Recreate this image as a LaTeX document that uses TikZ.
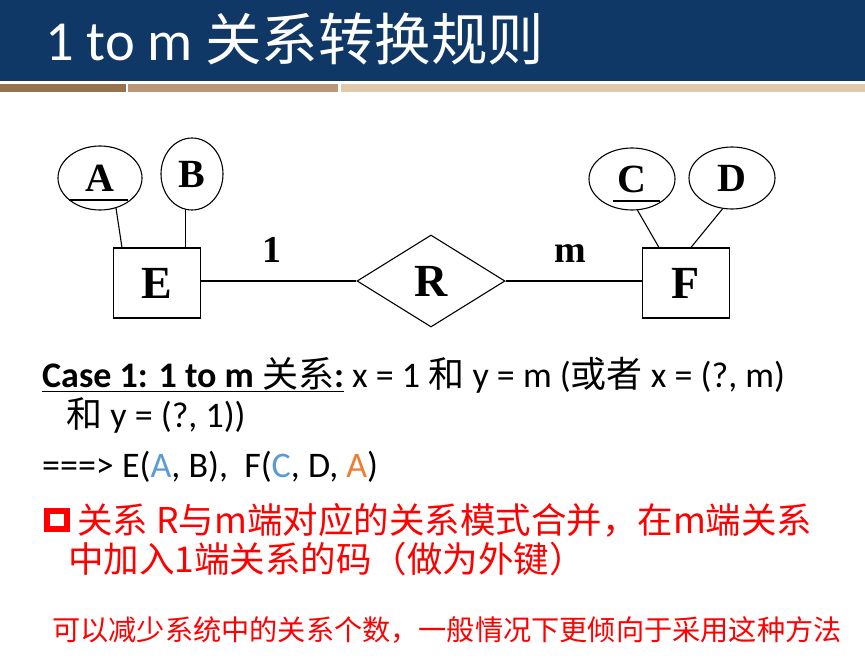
\documentclass[tikz,border=0pt]{standalone}
\usepackage{fontspec}
\setmainfont{Carlito}
\newfontfamily\cjk{Noto Sans CJK SC}
\newfontfamily\ertimes{Liberation Serif}
\usetikzlibrary{shapes.geometric,calc}

\definecolor{barblue}{RGB}{16,56,102}
\definecolor{stripA}{RGB}{150,115,78}
\definecolor{stripB}{RGB}{184,152,118}
\definecolor{stripC}{RGB}{224,202,170}
\definecolor{keyblue}{RGB}{91,155,213}
\definecolor{fkorange}{RGB}{237,125,49}

\tikzset{
  attr/.style={ellipse, draw, line width=1.1pt, inner sep=0pt,
    font=\ertimes\bfseries\fontsize{40}{40}\selectfont},
  entity/.style={rectangle, draw, line width=1.1pt, inner sep=0pt,
    minimum width=87pt, minimum height=70pt,
    font=\ertimes\bfseries\fontsize{46}{46}\selectfont},
  rel/.style={diamond, draw, line width=1.1pt, inner sep=0pt,
    minimum width=148pt, minimum height=92pt,
    font=\ertimes\bfseries\fontsize{46}{46}\selectfont},
  card/.style={anchor=base, font=\ertimes\bfseries\fontsize{38}{38}\selectfont},
  link/.style={line width=1.1pt},
  body/.style={anchor=base west, inner sep=0pt, align=left, font=\fontsize{36}{40}\selectfont},
  redtext/.style={anchor=base west, inner sep=0pt, text=red, font=\cjk\fontsize{35.5}{35.5}\selectfont}
}

\begin{document}
\begin{tikzpicture}[x=1pt, y=-1pt]
  \useasboundingbox (0,0) rectangle (865,663);
  % title bar
  \fill[barblue] (0,0) rectangle (865,81);
  \fill[stripA] (0,84) rectangle (126,92);
  \fill[stripB] (128,84) rectangle (338,92);
  \fill[stripC] (341,84) rectangle (865,92);
  \node[anchor=base west, inner sep=0pt, text=white] (title) at (45,61)
    {\fontsize{56.5}{56.5}\selectfont 1 to m {\cjk 关系转换规则}};

  % ER diagram
  \node[attr, minimum width=84pt, minimum height=64pt] (A) at (100,178) {A};
  \node[attr, minimum width=62pt, minimum height=72pt] (B) at (192,174) {B};
  \node[attr, minimum width=86pt, minimum height=62pt] (C) at (632,179) {C};
  \node[attr, minimum width=86pt, minimum height=62pt] (D) at (732,178) {D};
  \node[entity] (E) at (157,283) {E};
  \node[entity] (F) at (686,283) {F};
  \node[rel] (R) at (431,281) {R};
  \node[card] (one) at (272,262) {1};
  \node[card] (many) at (570,262) {m};

  % keys
  \draw[link] ($(A.center)+(-31,22)$) -- ($(A.center)+(28,22)$);
  \draw[link] ($(C.center)+(-19,22)$) -- ($(C.center)+(28,22)$);

  \draw[link] (A.-62) -- ($(E.north west)+(9,0)$);
  \draw[link] (B.-100) -- (B.-100 |- E.north);
  \draw[link] (C.-80) -- ($(F.north west)+(17,0)$);
  \draw[link] (D.-107) -- ($(F.north west)+(49,0)$);
  \draw[link] (E.east |- R.west) -- (R.west);
  \draw[link] (R.east) -- (R.east -| F.west);

  % text
  \node[body] (case) at (42,427)
    {\underline{\bfseries Case 1: 1 to m {\cjk\mdseries 关系}:} x = 1 {\cjk 和} y = m ({\cjk 或者} x = (?, m)\\
     \hspace*{24pt}{\cjk 和} y = (?, 1))};
  \node[body] (res) at (42,477)
    {===> E(\textcolor{keyblue}{A}, B),\ \ F(\textcolor{keyblue}{C}, D, \textcolor{fkorange}{A})};
  \node[draw=red, line width=5.5pt, inner sep=0pt, minimum width=20pt, minimum height=18pt] (bullet) at (57,520) {};
  \node[redtext] (rule) at (77,533) {关系 R与m端对应的关系模式合并，在m端关系};
  \node[redtext] (rule2) at (68,572) {中加入1端关系的码（做为外键）};
  \node[redtext, font=\cjk\fontsize{28.2}{28.2}\selectfont] (note) at (52,640)
    {可以减少系统中的关系个数，一般情况下更倾向于采用这种方法};
\end{tikzpicture}
\end{document}
